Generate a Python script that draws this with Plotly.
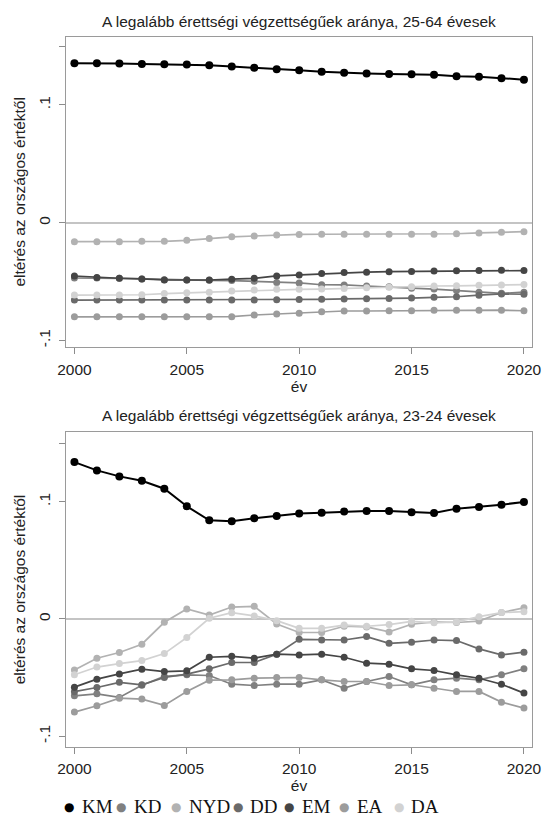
import plotly.graph_objects as go

years = list(range(2000, 2021))
regions = ["KM", "KD", "NYD", "DD", "EM", "EA", "DA"]
colors = ["#000000", "#808080", "#b2b2b2", "#6a6a6a", "#454545", "#9c9c9c", "#d2d2d2"]

title_2564 = "A legalább érettségi végzettségűek aránya, 25-64 évesek"
title_2324 = "A legalább érettségi végzettségűek aránya, 23-24 évesek"
y_title = "eltérés az országos értéktől"
x_title = "év"

# 25-64 year olds: deviation from national value
KM_2564 = [0.1354, 0.1355, 0.1352, 0.1349, 0.1347, 0.1344, 0.1338, 0.1326, 0.1317, 0.1303, 0.1295,
           0.1283, 0.1273, 0.1268, 0.1264, 0.1260, 0.1256, 0.1245, 0.1240, 0.1228, 0.1215]
KD_2564 = [-0.0470, -0.0470, -0.0473, -0.0478, -0.0484, -0.0487, -0.0490, -0.0492, -0.0497, -0.0508, -0.0512,
           -0.0527, -0.0529, -0.0538, -0.0544, -0.0556, -0.0564, -0.0576, -0.0590, -0.0600, -0.0590]
NYD_2564 = [-0.0161, -0.0161, -0.0161, -0.0158, -0.0158, -0.0150, -0.0135, -0.0120, -0.0113, -0.0105, -0.0100,
            -0.0098, -0.0098, -0.0098, -0.0098, -0.0099, -0.0098, -0.0094, -0.0087, -0.0081, -0.0076]
DD_2564 = [-0.0657, -0.0657, -0.0657, -0.0657, -0.0657, -0.0657, -0.0657, -0.0657, -0.0656, -0.0655, -0.0652,
           -0.0651, -0.0648, -0.0647, -0.0643, -0.0640, -0.0634, -0.0629, -0.0616, -0.0605, -0.0608]
EM_2564 = [-0.0453, -0.0465, -0.0472, -0.0478, -0.0486, -0.0487, -0.0487, -0.0480, -0.0473, -0.0452, -0.0444,
           -0.0432, -0.0424, -0.0420, -0.0416, -0.0415, -0.0411, -0.0408, -0.0407, -0.0405, -0.0407]
EA_2564 = [-0.0800, -0.0800, -0.0799, -0.0799, -0.0799, -0.0799, -0.0800, -0.0798, -0.0784, -0.0776, -0.0770,
           -0.0756, -0.0750, -0.0750, -0.0748, -0.0747, -0.0743, -0.0743, -0.0743, -0.0743, -0.0748]
DA_2564 = [-0.0615, -0.0615, -0.0614, -0.0612, -0.0602, -0.0596, -0.0590, -0.0581, -0.0572, -0.0566, -0.0566,
           -0.0564, -0.0558, -0.0552, -0.0549, -0.0544, -0.0538, -0.0536, -0.0532, -0.0529, -0.0526]

# 23-24 year olds: deviation from national value
KM_2324 = [0.1338, 0.1267, 0.1216, 0.1179, 0.1111, 0.0961, 0.0842, 0.0833, 0.0859, 0.0879, 0.0899,
           0.0907, 0.0916, 0.0921, 0.0921, 0.0910, 0.0904, 0.0941, 0.0955, 0.0975, 0.0998]
KD_2324 = [-0.0655, -0.0638, -0.0669, -0.0565, -0.0490, -0.0476, -0.0482, -0.0556, -0.0567, -0.0556, -0.0556,
           -0.0519, -0.0590, -0.0533, -0.0491, -0.0561, -0.0519, -0.0505, -0.0519, -0.0476, -0.0425]
NYD_2324 = [-0.0434, -0.0335, -0.0286, -0.0215, -0.0028, 0.0085, 0.0034, 0.0102, 0.0108, -0.0043, -0.0115,
            -0.0115, -0.0062, -0.0068, -0.0110, -0.0045, -0.0025, -0.0030, -0.0018, 0.0055, 0.0095]
DD_2324 = [-0.0620, -0.0584, -0.0540, -0.0561, -0.0499, -0.0470, -0.0425, -0.0371, -0.0371, -0.0300, -0.0173,
           -0.0179, -0.0179, -0.0150, -0.0207, -0.0198, -0.0179, -0.0184, -0.0255, -0.0306, -0.0283]
EM_2324 = [-0.0581, -0.0513, -0.0468, -0.0428, -0.0448, -0.0442, -0.0326, -0.0318, -0.0334, -0.0300, -0.0306,
           -0.0300, -0.0326, -0.0377, -0.0385, -0.0425, -0.0439, -0.0476, -0.0505, -0.0556, -0.0632]
EA_2324 = [-0.0794, -0.0740, -0.0675, -0.0683, -0.0737, -0.0618, -0.0522, -0.0519, -0.0505, -0.0499, -0.0499,
           -0.0519, -0.0533, -0.0533, -0.0567, -0.0561, -0.0590, -0.0618, -0.0618, -0.0709, -0.0760]
DA_2324 = [-0.0476, -0.0410, -0.0380, -0.0355, -0.0295, -0.0158, 0.0006, 0.0054, 0.0026, -0.0014, -0.0080,
           -0.0080, -0.0052, -0.0062, -0.0048, -0.0020, -0.0033, -0.0025, 0.0020, 0.0055, 0.0062]

series_2564 = [KM_2564, KD_2564, NYD_2564, DD_2564, EM_2564, EA_2564, DA_2564]
series_2324 = [KM_2324, KD_2324, NYD_2324, DD_2324, EM_2324, EA_2324, DA_2324]

y_tickvals = [-0.1, 0, 0.1, 0.15]
y_ticktext = ["-.1", "0", ".1", ""]
x_tickvals = [2000, 2005, 2010, 2015, 2020]

# page is 553x819; the html body adds an 8px margin, so the figure is laid out in page pixels minus 8
OFF = 8
FW, FH = 553 - OFF, 819 - OFF


def px(x):
    return (x - OFF) / FW


def py(y):
    return 1 - (y - OFF) / FH


SANS = "Liberation Sans, Arial, sans-serif"
SERIF = "Liberation Serif, DejaVu Serif, serif"
FS = 15.5

fig = go.Figure()

for panel, data in ((1, series_2564), (2, series_2324)):
    xa = "x" if panel == 1 else "x2"
    ya = "y" if panel == 1 else "y2"
    for name, col, vals in zip(regions, colors, data):
        is_km = name == "KM"
        fig.add_trace(go.Scatter(
            x=years, y=vals, mode="lines+markers", name=name,
            xaxis=xa, yaxis=ya, showlegend=False, legendgroup=name,
            line=dict(color=col, width=2 if is_km else 1.7),
            marker=dict(color=col, size=8 if is_km else 7),
            hoverinfo="x+y+name",
        ))

xdom = [px(59.3), px(541)]
ydom1 = [py(347), py(36.7)]
ydom2 = [py(746.7), py(432.3)]

common_x = dict(
    range=[1999.612, 2020.375], tickvals=x_tickvals, ticks="outside", ticklen=6,
    tickcolor="#8c8c8c", showgrid=False, zeroline=False, showline=True, mirror=True,
    linecolor="#9a9a9a", linewidth=1, tickfont=dict(family=SANS, size=FS, color="#222"),
    ticklabelstandoff=2,
    title=dict(text=x_title, font=dict(family=SANS, size=FS, color="#222"), standoff=1),
    domain=xdom,
)
common_y = dict(
    tickvals=y_tickvals, ticktext=y_ticktext, ticks="outside", ticklen=6, tickangle=-90,
    tickcolor="#8c8c8c", showgrid=False, zeroline=True, zerolinecolor="#c4c4c4",
    zerolinewidth=1.5, showline=True, mirror=True, linecolor="#9a9a9a", linewidth=1,
    tickfont=dict(family=SANS, size=FS, color="#222"), ticklabelstandoff=3,
    title=dict(text=y_title, font=dict(family=SANS, size=FS, color="#222"), standoff=6),
)

# legend drawn as text: a coloured dot glyph followed by the region code
legend_dot_x = [62.7, 116.7, 173, 236.7, 290, 346.7, 403]
legend_y = 806
annotations = [
    dict(text=title_2564, x=0.5 * (xdom[0] + xdom[1]), y=py(21), xref="paper", yref="paper",
         showarrow=False, font=dict(family=SANS, size=FS, color="#222"), xanchor="center", yanchor="middle"),
    dict(text=title_2324, x=0.5 * (xdom[0] + xdom[1]), y=py(415), xref="paper", yref="paper",
         showarrow=False, font=dict(family=SANS, size=FS, color="#222"), xanchor="center", yanchor="middle"),
]
for name, col, dx in zip(regions, colors, legend_dot_x):
    annotations.append(dict(
        text="●", x=px(dx), y=py(legend_y + 1), xref="paper", yref="paper", showarrow=False,
        font=dict(family="DejaVu Sans", size=12, color=col), xanchor="center", yanchor="middle"))
    annotations.append(dict(
        text=name, x=px(dx + 11), y=py(legend_y), xref="paper", yref="paper", showarrow=False,
        font=dict(family=SERIF, size=19, color="#111"), xanchor="left", yanchor="middle"))

fig.update_layout(
    width=FW, height=FH, autosize=False,
    paper_bgcolor="white", plot_bgcolor="white",
    margin=dict(l=0, r=0, t=0, b=0),
    xaxis=dict(common_x, anchor="y"),
    yaxis=dict(common_y, range=[-0.1056, 0.158], domain=ydom1, anchor="x"),
    xaxis2=dict(common_x, anchor="y2"),
    yaxis2=dict(common_y, range=[-0.1089, 0.1592], domain=ydom2, anchor="x2"),
    showlegend=False,
    annotations=annotations,
)

fig.write_html("out.html")
